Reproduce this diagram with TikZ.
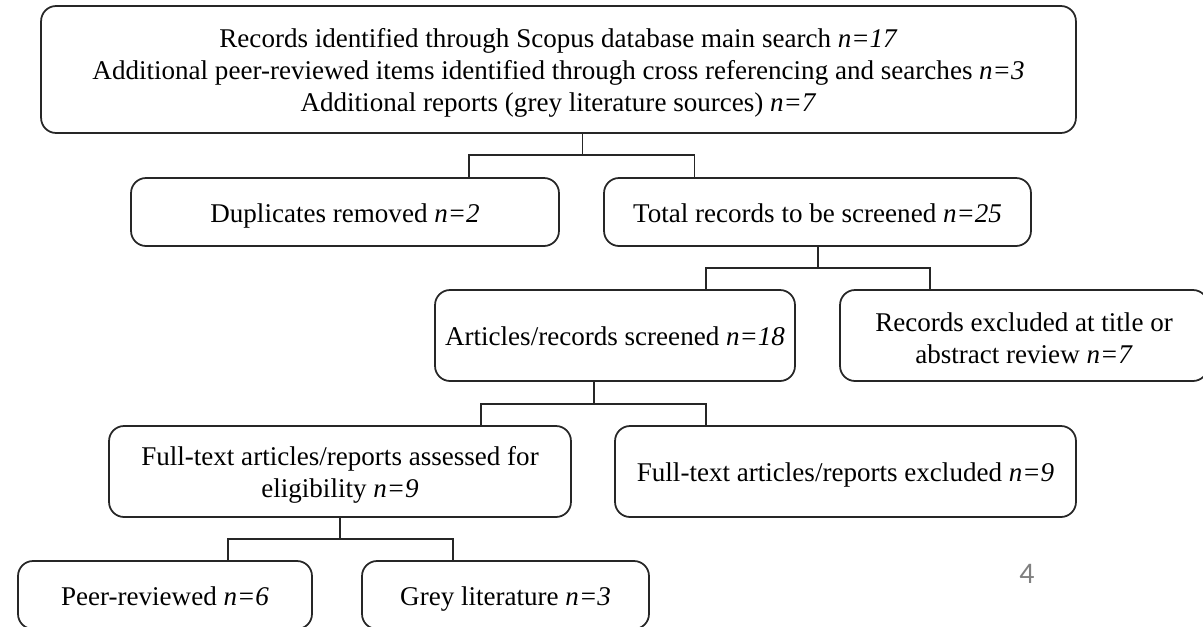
\documentclass[tikz,border=0pt]{standalone}
\usepackage{fontspec}
\setmainfont{Liberation Serif}
\newfontfamily\pagefont{Carlito}
\tikzset{
	box/.style={draw=black!85,line width=1pt,rounded corners=0.3cm,align=center,inner sep=2pt,font=\fontsize{15.4}{18.2}\selectfont},
	oneline/.style={box,text height=14.6pt,text depth=3.2pt},
	twoline/.style={box,text height=32.5pt},
	threeline/.style={box,text height=50.7pt},
	link/.style={draw=black!85,line width=1pt}
}
\begin{document}
\begin{tikzpicture}[x=0.02cm,y=-0.02cm]
	\useasboundingbox (0,0) rectangle (1203,626);
	\clip (0,0) rectangle (1203,626);
	% boxes
	\node[threeline,minimum width=20.7cm,minimum height=2.54cm] (top) at (558.5,69.5) {Records identified through Scopus database main search \textit{n=17}\\Additional peer-reviewed items identified through cross referencing and searches \textit{n=3}\\Additional reports (grey literature sources) \textit{n=7}};
	\node[oneline,minimum width=8.56cm,minimum height=1.36cm] (dup) at (345,212) {Duplicates removed \textit{n=2}};
	\node[oneline,minimum width=8.54cm,minimum height=1.36cm] (total) at (817.5,212) {Total records to be screened \textit{n=25}};
	\node[oneline,minimum width=7.2cm,minimum height=1.82cm] (screened) at (615,335.5) {Articles/records screened \textit{n=18}};
	\node[twoline,minimum width=7.36cm,minimum height=1.82cm] (exclTitle) at (1024,335.5) {Records excluded at title or\\abstract review \textit{n=7}};
	\node[twoline,minimum width=9.24cm,minimum height=1.82cm] (assessed) at (340,471.5) {Full-text articles/reports assessed for\\eligibility \textit{n=9}};
	\node[oneline,minimum width=9.22cm,minimum height=1.82cm] (exclFull) at (845.5,471.5) {Full-text articles/reports excluded \textit{n=9}};
	\node[oneline,minimum width=5.88cm,minimum height=1.36cm] (peer) at (165,595) {Peer-reviewed \textit{n=6}};
	\node[oneline,minimum width=5.74cm,minimum height=1.36cm] (grey) at (505.5,595) {Grey literature \textit{n=3}};
	\node[text=black!50,font=\pagefont\fontsize{17}{20}\selectfont] (page) at (1027,574) {4};
	% branch points
	\coordinate (b1) at (582.5,155);
	\coordinate (b1l) at (469,155);
	\coordinate (b1r) at (694.5,155);
	\coordinate (b2) at (818,268);
	\coordinate (b2l) at (706,268);
	\coordinate (b2r) at (930,268);
	\coordinate (b3) at (594,404);
	\coordinate (b3l) at (481,404);
	\coordinate (b3r) at (706,404);
	\coordinate (b4) at (340,539);
	\coordinate (b4l) at (228,539);
	\coordinate (b4r) at (453,539);
	% connectors
	\draw[link] (top.south -| b1) -- (b1);
	\draw[link] (dup.north -| b1l) -- (b1l) -- (b1r) -- (total.north -| b1r);
	\draw[link] (total.south -| b2) -- (b2);
	\draw[link] (screened.north -| b2l) -- (b2l) -- (b2r) -- (exclTitle.north -| b2r);
	\draw[link] (screened.south -| b3) -- (b3);
	\draw[link] (assessed.north -| b3l) -- (b3l) -- (b3r) -- (exclFull.north -| b3r);
	\draw[link] (assessed.south -| b4) -- (b4);
	\draw[link] (peer.north -| b4l) -- (b4l) -- (b4r) -- (grey.north -| b4r);
\end{tikzpicture}
\end{document}
